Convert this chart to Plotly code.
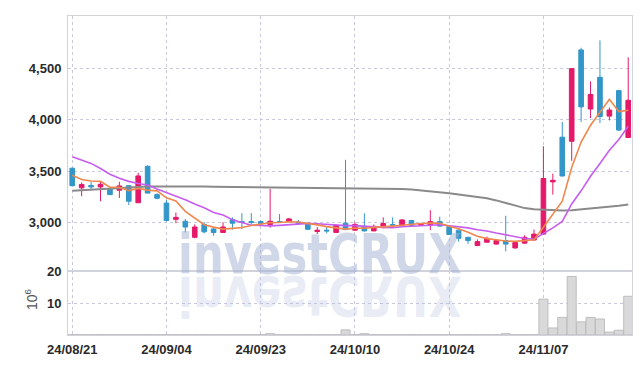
import plotly.graph_objects as go

dates = ["2024-08-21","2024-08-22","2024-08-23","2024-08-26","2024-08-27","2024-08-28","2024-08-29","2024-08-30",
         "2024-09-02","2024-09-03","2024-09-04","2024-09-05","2024-09-06","2024-09-09","2024-09-10","2024-09-11",
         "2024-09-12","2024-09-13","2024-09-19","2024-09-20","2024-09-23","2024-09-24","2024-09-25","2024-09-26",
         "2024-09-27","2024-09-30","2024-10-02","2024-10-04","2024-10-07","2024-10-08","2024-10-10","2024-10-11",
         "2024-10-14","2024-10-15","2024-10-16","2024-10-17","2024-10-18","2024-10-21","2024-10-22","2024-10-23",
         "2024-10-24","2024-10-25","2024-10-28","2024-10-29","2024-10-30","2024-10-31","2024-11-01","2024-11-04",
         "2024-11-05","2024-11-06","2024-11-07","2024-11-08","2024-11-11","2024-11-12","2024-11-13","2024-11-14",
         "2024-11-15","2024-11-18","2024-11-19","2024-11-20"]

open_ = [3528,3337,3361,3346,3324,3314,3358,3192,3547,3271,3189,3031,3012,2856,2981,2937,2903,3028,3009,3009,
         3009,2981,3009,3009,3005,2993,2912,2925,2903,2993,2925,2962,2918,2950,2981,2972,3019,2978,2975,3009,
         2962,2925,2856,2776,2808,2790,2824,2752,2799,2830,2887,3395,3830,3790,4679,4104,4413,4035,4283,3827]
high = [3535,3390,3396,3403,3343,3396,3365,3484,3557,3286,3223,3097,3035,2981,3003,2950,3003,3050,3091,3091,
        3020,3327,3082,3045,3025,2995,2956,2962,2981,3610,3003,3088,2981,3050,3050,3030,3025,2995,3120,3057,
        2965,2930,2860,2835,2862,2840,3066,2810,2875,2931,3742,3475,3978,4500,4700,4373,4772,4119,4290,4607]
low = [3355,3255,3320,3207,3271,3239,3170,3190,3286,3226,3012,2993,2903,2846,2893,2871,2900,2931,2935,2985,
       2985,2950,2995,3005,2975,2925,2887,2893,2900,2925,2920,2912,2915,2945,2965,2968,2962,2965,2925,2960,
       2880,2814,2792,2770,2805,2785,2720,2748,2795,2825,2880,3271,3445,3600,3978,4016,3969,3993,3890,3821]
close = [3358,3370,3346,3371,3271,3356,3207,3453,3286,3236,3019,3050,2956,2956,2909,2903,2956,2993,3000,3000,
         2987,3012,3000,3035,2990,2934,2925,2918,2972,2931,2981,2918,2962,2990,2972,3025,2972,2990,3009,2965,
         2884,2846,2824,2814,2846,2824,2790,2805,2856,2887,3428,3410,3453,4497,4125,4245,4031,4094,3899,4189]

ma5 = [3459,3418,3403,3400,3343,3343,3310,3332,3315,3308,3240,3209,3109,3043,2978,2955,2936,2943,2952,2970,
       2987,2998,3000,3007,3005,2994,2977,2960,2948,2936,2945,2944,2953,2956,2965,2973,2984,2990,2994,2992,
       2964,2939,2906,2867,2843,2831,2820,2816,2824,2832,2953,3077,3207,3535,3783,3946,4070,4198,4079,4092]
ma10 = [3639,3610,3575,3525,3470,3430,3400,3380,3365,3325,3292,3260,3221,3179,3143,3098,3072,3026,2998,2974,
        2971,2967,2972,2980,2988,2991,2988,2980,2977,2970,2970,2960,2957,2952,2950,2959,2964,2971,2975,2978,
        2969,2962,2948,2930,2918,2897,2879,2861,2845,2838,2892,2948,3011,3180,3308,3450,3574,3703,3807,3937]
ma60 = [3310,3315,3322,3330,3336,3342,3346,3349,3350,3351,3352,3352,3351,3350,3349,3348,3347,3346,3345,3344,
        3343,3342,3341,3340,3339,3339,3338,3338,3337,3337,3336,3335,3334,3333,3330,3326,3320,3312,3305,3295,
        3285,3273,3262,3248,3235,3215,3190,3162,3140,3128,3122,3118,3116,3120,3128,3135,3143,3152,3163,3175]

volume = [0.1,0.1,0.1,0.1,0.1,0.1,0.1,0.1,0.1,0.1,0.1,0.1,0.1,0.1,0.1,0.1,0.1,0.1,0.1,0.1,
          0.1,0.4,0.1,0.1,0.1,0.1,0.1,0.1,0.1,1.6,0.1,0.4,0.1,0.1,0.1,0.1,0.1,0.1,0.1,0.1,
          0.1,0.1,0.1,0.1,0.1,0.1,0.4,0.1,0.1,0.1,11.2,2.2,5.5,18.3,4.1,5.5,5.0,0.9,1.5,12.1]

tick_idx = [0, 10, 20, 30, 40, 50]
tick_vals = [dates[i] for i in tick_idx]
tick_text = [d[2:4] + "/" + d[5:7] + "/" + d[8:10] for d in tick_vals]
price_ticks = [3000, 3500, 4000, 4500]
vol_ticks = [10, 20]

RED = "#e5196a"
BLUE = "#3296c8"
ORANGE = "#f0884e"
PURPLE = "#c65cf0"
GREY = "#8a8a8a"
GRID = "#c9c9de"
FRAME = "#d2d2da"
FONT = "Liberation Sans, Arial, sans-serif"
WM_FONT = "DejaVu Sans Condensed, DejaVu Sans, sans-serif"

fig = go.Figure()
fig.add_trace(go.Bar(x=dates, y=volume, xaxis="x2", yaxis="y2",
                     marker=dict(color="#d9d9d9", line=dict(color="#bdbdbd", width=1)),
                     showlegend=False, hoverinfo="skip"))
fig.add_trace(go.Candlestick(x=dates, open=open_, high=high, low=low, close=close,
                             increasing=dict(line=dict(color=RED, width=1), fillcolor=RED),
                             decreasing=dict(line=dict(color=BLUE, width=1), fillcolor=BLUE),
                             xaxis="x", yaxis="y", showlegend=False))
fig.add_trace(go.Scatter(x=dates, y=ma60, mode="lines", line=dict(color=GREY, width=2),
                         xaxis="x", yaxis="y", showlegend=False))
fig.add_trace(go.Scatter(x=dates, y=ma10, mode="lines", line=dict(color=PURPLE, width=1.6),
                         xaxis="x", yaxis="y", showlegend=False))
fig.add_trace(go.Scatter(x=dates, y=ma5, mode="lines", line=dict(color=ORANGE, width=1.6),
                         xaxis="x", yaxis="y", showlegend=False))

split = 0.2006
axis_common = dict(showgrid=True, gridcolor=GRID, griddash="dot", gridwidth=1,
                   showline=True, linecolor=FRAME, linewidth=1, mirror=True, zeroline=False,
                   tickfont=dict(family=FONT, size=13, color="#2a2a2a", weight="bold"))

fig.update_layout(
    width=642, height=366,
    margin=dict(l=68, r=10, t=9, b=28),
    paper_bgcolor="white", plot_bgcolor="white",
    bargap=0.04,
    showlegend=False,
    xaxis=dict(domain=[0, 1], anchor="y", type="category", range=[-0.45, 59.4],
               tickvals=tick_vals, ticktext=tick_text, showticklabels=False,
               rangeslider=dict(visible=False), **axis_common),
    xaxis2=dict(domain=[0, 1], anchor="y2", type="category", matches="x", range=[-0.45, 59.4],
                tickvals=tick_vals, ticktext=tick_text, showticklabels=True,
                ticks="outside", ticklen=2, tickcolor="rgba(0,0,0,0)", **axis_common),
    yaxis=dict(domain=[split, 1], anchor="x", range=[2528, 5009], tickvals=price_ticks,
               tickformat=",", ticks="outside", ticklen=3, tickcolor="rgba(0,0,0,0)", **axis_common),
    yaxis2=dict(domain=[0, split], anchor="x2", range=[0, 20], tickvals=vol_ticks,
                ticks="outside", ticklen=3, tickcolor="rgba(0,0,0,0)", **axis_common),
    annotations=[
        dict(text="<b>investCRUX</b>", xref="paper", yref="paper", x=0.447, y=0.2547,
             xanchor="center", yanchor="middle", showarrow=False,
             font=dict(family=WM_FONT, size=56, color="rgba(160,175,212,0.5)")),
        dict(text="<b>investCRUX</b>", xref="paper", yref="paper", x=0.447, y=0.1216,
             xanchor="center", yanchor="middle", showarrow=False,
             font=dict(family=WM_FONT, size=56, color="rgba(180,190,222,0.3)")),
        dict(text="10<sup>6</sup>", xref="paper", yref="paper", x=-0.0656, y=0.1125,
             xanchor="center", yanchor="middle", showarrow=False, textangle=-90,
             font=dict(family=FONT, size=14, color="#555")),
    ],
)

post = """
document.body.style.margin = '0';
document.body.style.overflow = 'hidden';
var gd = document.getElementById('{plot_id}');
function wm(){
  var a = gd.querySelector('g.annotation[data-index="0"] text.annotation-text');
  if(a){ a.style.transformBox='fill-box'; a.style.transformOrigin='center'; a.style.transform='scale(0.86,1)'; }
  var b = gd.querySelector('g.annotation[data-index="1"] text.annotation-text');
  if(b){ b.style.transformBox='fill-box'; b.style.transformOrigin='center'; b.style.transform='scale(0.86,-1)'; }
}
wm();
gd.on('plotly_afterplot', wm);
"""

fig.write_html("out.html", post_script=post, config={"displayModeBar": False})
